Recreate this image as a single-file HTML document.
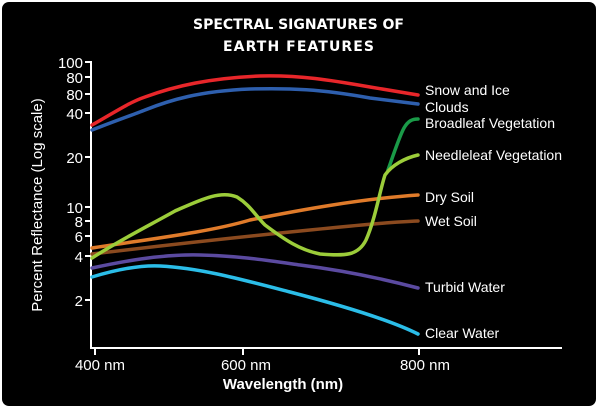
<!DOCTYPE html>
<html><head><style>
html,body{margin:0;padding:0;background:#fff;}
svg{display:block}
text{font-family:"Liberation Sans Narrow","Liberation Sans",sans-serif;fill:#fff}
</style></head><body>
<svg width="600" height="413" viewBox="0 0 600 413">
<rect x="2" y="2" width="594" height="404" rx="7" fill="#000"/>
<text x="300" y="29" text-anchor="middle" font-size="14" style="font-family:'DejaVu Sans',sans-serif;letter-spacing:3px;font-weight:bold" textLength="214">SPECTRAL SIGNATURES OF</text>
<text x="300" y="51" text-anchor="middle" font-size="14" style="font-family:'DejaVu Sans',sans-serif;letter-spacing:3px;font-weight:bold" textLength="154">EARTH FEATURES</text>
<g stroke="#fff" stroke-width="2" fill="none">
<path d="M91 61V348H562"/>
<path d="M85 62H91M85 77H91M85 94H91M85 113H91M85 157H91M85 207H91M85 221H91M85 236H91M85 256H91M85 300H91"/>
<path d="M95 348V355M243 348V355M419 348V355"/>
</g>
<g font-size="15" text-anchor="end">
<text x="83" y="68">100</text><text x="83" y="83">80</text><text x="83" y="100">80</text><text x="83" y="119">40</text><text x="83" y="163">20</text><text x="83" y="213">10</text><text x="83" y="227">8</text><text x="83" y="242">6</text><text x="83" y="262">4</text><text x="83" y="306">2</text>
</g>
<g font-size="15" text-anchor="middle">
<text x="100" y="370">400 nm</text><text x="246" y="370">600 nm</text><text x="425" y="370">800 nm</text>
</g>
<text x="283" y="389" text-anchor="middle" font-size="15" font-weight="bold">Wavelength (nm)</text>
<text transform="translate(42,205) rotate(-90)" text-anchor="middle" font-size="15">Percent Reflectance (Log scale)</text>
<g fill="none" stroke-width="3.5" stroke-linecap="round" stroke-linejoin="round">
<path stroke="#e8262a" d="M92,125 C115,112 130,102 145,97 C175,86 210,78 260,76 C300,75 330,80 370,87 L418,95"/>
<path stroke="#2e5fae" d="M92,130 C115,121 135,114 145,110 C170,100 200,91 250,89 C290,88 320,89 370,98 L418,104"/>
<path stroke="#5b4aa0" d="M92,268 C120,262 160,254 200,255 C240,256 265,260 300,265 C340,270 380,278 418,288"/>
<path stroke="#2bbde8" d="M92,277 C115,270 140,265 160,266 C200,268 240,279 290,292 C340,305 390,320 418,334"/>
<path stroke="#8b4a1f" d="M92,254 C150,247 230,238 300,231 C350,226 390,222 418,221"/>
<path stroke="#e07b2a" d="M92,248 C150,239 210,232 250,220 C300,210 360,199 418,195"/>
<path stroke="#1a9a48" d="M388,170 C395,150 400,135 404,128 C408,121 412,119 418,119"/>
<path stroke="#9ccd3a" d="M92,258 C120,240 150,225 175,211 C200,200 220,190 237,197 C250,205 255,215 265,225 C285,240 300,250 320,254 C345,256 358,256 366,240 C375,220 380,190 385,175 C392,165 405,158 418,155"/>
</g>
<g font-size="14">
<text x="425" y="95">Snow and Ice</text>
<text x="425" y="112">Clouds</text>
<text x="425" y="128">Broadleaf Vegetation</text>
<text x="425" y="160">Needleleaf Vegetation</text>
<text x="425" y="202">Dry Soil</text>
<text x="425" y="226">Wet Soil</text>
<text x="425" y="292">Turbid Water</text>
<text x="425" y="338">Clear Water</text>
</g>
</svg>
</body></html>
